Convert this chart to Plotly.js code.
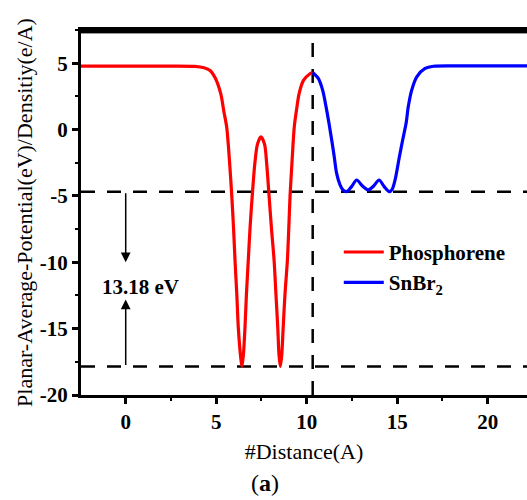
<!DOCTYPE html>
<html>
<head>
<meta charset="utf-8">
<script src="https://cdn.plot.ly/plotly-3.0.1.min.js"></script>
<style>html,body{margin:0;padding:0;background:#fff;}#chart{width:527px;height:500px;}</style>
</head>
<body>
<div id="chart"></div>
<script>
// Phosphorene (red) planar-average potential
const redX = [-2.47, 1.99, 3.82, 4.33, 4.66, 4.94, 5.25, 5.43, 5.58, 5.74, 5.86, 5.96, 6.04, 6.14, 6.22, 6.34, 6.42, 6.5, 6.59, 6.67, 6.77, 6.87, 6.99, 7.13, 7.28, 7.47, 7.67, 7.79, 7.92, 8.05, 8.2, 8.3, 8.4, 8.47, 8.54, 8.62, 8.7, 8.8, 8.93, 9.01, 9.08, 9.19, 9.31, 9.45, 9.58, 9.82, 10.18, 10.33];
const redY = [4.78, 4.78, 4.76, 4.65, 4.45, 3.9, 2.7, 1.3, 0.17, -2.5, -5, -7.5, -9.9, -12.5, -14.9, -17, -17.86, -17, -14.9, -12.4, -9.9, -7.4, -5, -2.6, -1.1, -0.55, -1.1, -2.6, -5, -7.4, -9.9, -12.4, -14.9, -17, -17.86, -17, -14.9, -12.4, -9.9, -7.4, -5, -2.4, 0.17, 1.6, 2.7, 3.7, 4.2, 4.3];
// SnBr2 (blue)
const blueX = [10.33, 10.64, 10.88, 11.07, 11.23, 11.38, 11.52, 11.65, 11.84, 12.0, 12.21, 12.48, 12.76, 13.08, 13.4, 13.7, 14.0, 14.28, 14.56, 14.72, 14.88, 15.12, 15.3, 15.49, 15.61, 15.8, 16.08, 16.54, 17.0, 18.47, 22.17];
const blueY = [4.3, 3.85, 2.97, 1.71, 0.47, -0.79, -2.05, -3.29, -4.17, -4.55, -4.68, -4.3, -3.8, -4.25, -4.55, -4.25, -3.8, -4.3, -4.68, -4.5, -3.8, -2.05, -0.79, 0.47, 1.71, 2.97, 3.97, 4.6, 4.77, 4.8, 4.8];
// reference levels
const levelTop = -4.68;
const levelBottom = -17.86;
const interfaceX = 10.33;
const gapLabel = "13.18 eV";
const seriesNames = ["<b>Phosphorene</b>", "<b>SnBr<sub>2</sub></b>"];
const xTitle = "#Distance(A)";
const yTitle = "Planar-Average-Potential(eV)/Densitiy(e/A)";
const panelLabel = "(<b>a</b>)";
const xTicks = [0, 5, 10, 15, 20];
const yTicks = [5, 0, -5, -10, -15, -20];

const serif = "Liberation Serif";
const dash = "14px,12px";

const traces = [
  {x: redX, y: redY, name: seriesNames[0], mode: "lines",
   line: {color: "#ff0000", width: 3.2, shape: "spline", smoothing: 0.8}},
  {x: blueX, y: blueY, name: seriesNames[1], mode: "lines",
   line: {color: "#0000ff", width: 3.2, shape: "spline", smoothing: 0.8}}
];

const layout = {
  width: 527, height: 500,
  margin: {l: 81, r: 0, t: 30, b: 105},
  paper_bgcolor: "#fff", plot_bgcolor: "#fff",
  font: {family: serif, color: "#000"},
  showlegend: true,
  legend: {x: 0.578, y: 0.447, xanchor: "left", yanchor: "top",
           font: {family: serif, size: 21, color: "#000"},
           bgcolor: "rgba(0,0,0,0)", itemwidth: 40, tracegroupgap: 0},
  xaxis: {range: [-2.47, 22.17], tickvals: xTicks, ticktext: xTicks.map(v => "<b>" + v + "</b>"),
          showgrid: false, zeroline: false, showline: true, linewidth: 3, linecolor: "#000",
          mirror: true, ticks: "outside", ticklen: 6, tickwidth: 3, tickcolor: "#000",
          minor: {dtick: 2.5, tick0: 0, ticks: "outside", ticklen: 3, tickwidth: 2, tickcolor: "#000"},
          tickfont: {family: serif, size: 21, color: "#000"},
          title: {text: xTitle, font: {family: serif, size: 22, color: "#000"}, standoff: 11},
          automargin: false},
  yaxis: {range: [-20, 7.5], tickvals: yTicks, ticktext: yTicks.map(v => "<b>" + v + "</b>"),
          showgrid: false, zeroline: false, showline: true, linewidth: 3, linecolor: "#000",
          mirror: false, ticks: "outside", ticklen: 6, tickwidth: 3, tickcolor: "#000",
          minor: {dtick: 2.5, tick0: 0, ticks: "outside", ticklen: 3, tickwidth: 2, tickcolor: "#000"},
          tickfont: {family: serif, size: 21, color: "#000"},
          title: {text: yTitle, font: {family: serif, size: 22, color: "#000"}, standoff: 2},
          automargin: false},
  shapes: [
    {type: "line", xref: "paper", x0: 0, x1: 1, yref: "y", y0: levelTop, y1: levelTop,
     line: {color: "#000", width: 2.5, dash: dash}, layer: "below"},
    {type: "line", xref: "paper", x0: 0, x1: 1, yref: "y", y0: levelBottom, y1: levelBottom,
     line: {color: "#000", width: 2.5, dash: dash}, layer: "below"},
    {type: "line", xref: "x", x0: interfaceX, x1: interfaceX, yref: "paper", y0: 0, y1: 1,
     line: {color: "#000", width: 2.5, dash: dash}, layer: "below"},
    {type: "rect", xref: "paper", x0: -0.004, x1: 1, yref: "paper", y0: 0.992, y1: 1.0,
     fillcolor: "#000", line: {color: "#000", width: 1}, layer: "above"}
  ],
  annotations: [
    {x: 0, y: -10.0, xref: "x", yref: "y", ax: 0, ay: levelTop, axref: "x", ayref: "y",
     text: "", showarrow: true, arrowhead: 2, arrowsize: 1.3, arrowwidth: 1.5, arrowcolor: "#000"},
    {x: 0, y: -12.8, xref: "x", yref: "y", ax: 0, ay: levelBottom, axref: "x", ayref: "y",
     text: "", showarrow: true, arrowhead: 2, arrowsize: 1.3, arrowwidth: 1.5, arrowcolor: "#000"},
    {x: 0.8, y: -11.9, xref: "x", yref: "y", text: "<b>" + gapLabel + "</b>", showarrow: false,
     font: {family: serif, size: 21, color: "#000"}},
    {x: (265 - 81) / 446, y: -88 / 365, xref: "paper", yref: "paper", xanchor: "center", yanchor: "middle",
     text: panelLabel, showarrow: false, font: {family: serif, size: 24, color: "#000"}}
  ]
};

Plotly.newPlot("chart", traces, layout, {displayModeBar: false, staticPlot: true});
</script>
</body>
</html>
